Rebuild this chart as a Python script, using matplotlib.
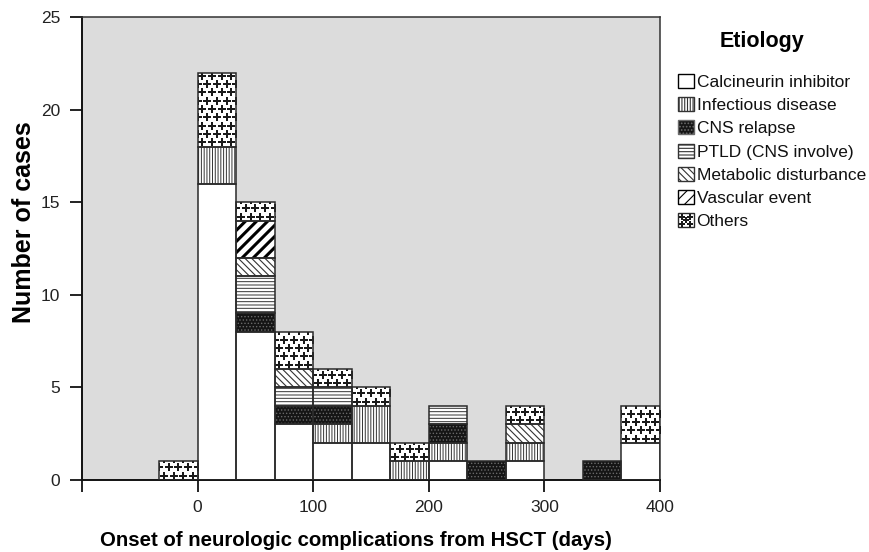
import numpy as np
import matplotlib
matplotlib.use('Agg')
import matplotlib.pyplot as plt
from matplotlib.patches import Rectangle
from matplotlib.lines import Line2D
from matplotlib.legend_handler import HandlerBase

plt.rcParams['font.family'] = ['Liberation Sans', 'DejaVu Sans']
plt.rcParams['hatch.linewidth'] = 0.8

# histogram bins (days), 15 bins of 33.3 days from -100 to 400
bin_edges = np.linspace(-100, 400, 16)

categories = ['Calcineurin inhibitor', 'Infectious disease', 'CNS relapse',
              'PTLD (CNS involve)', 'Metabolic disturbance', 'Vascular event', 'Others']

calcineurin = [0, 0, 0, 16, 8, 3, 2, 2, 0, 1, 0, 1, 0, 0, 2]
infectious  = [0, 0, 0, 2, 0, 0, 1, 2, 1, 1, 0, 1, 0, 0, 0]
cns_relapse = [0, 0, 0, 0, 1, 1, 1, 0, 0, 1, 1, 0, 0, 1, 0]
ptld        = [0, 0, 0, 0, 2, 1, 1, 0, 0, 1, 0, 0, 0, 0, 0]
metabolic   = [0, 0, 0, 0, 1, 1, 0, 0, 0, 0, 0, 1, 0, 0, 0]
vascular    = [0, 0, 0, 0, 2, 0, 0, 0, 0, 0, 0, 0, 0, 0, 0]
others      = [0, 0, 1, 4, 1, 2, 1, 1, 1, 0, 0, 1, 0, 0, 2]

series = [calcineurin, infectious, cns_relapse, ptld, metabolic, vascular, others]

# fill style per category: (facecolor, hatch, hatch colour, hatch linewidth)
styles = [
    ('white', '', 'black', 0.8),
    ('white', '||||||', '#333333', 0.7),
    ('#151515', '.....', '#6a6a6a', 0.6),
    ('white', '-----', '#333333', 0.7),
    ('white', '\\\\\\\\\\', '#333333', 0.8),
    ('white', '///', 'black', 2.2),
    ('white', '', 'black', 0.8),
]

fig = plt.figure(figsize=(8.69, 5.52), dpi=100)
ax = fig.add_axes([82 / 869, 1 - 480 / 552, (660 - 82) / 869, (480 - 17) / 552])
ax.set_facecolor('#dcdcdc')

left = bin_edges[:-1]
width = np.diff(bin_edges)
bottom = np.zeros(len(left))


def add_pluses(ax, patch, x0, y0, w, h, dx_frac=0.25, dy=0.45):
    xs, ys = [], []
    dx = w * dx_frac
    row = 0
    y = y0 + dy * 0.5
    while y < y0 + h + dy:
        off = dx * 0.5 if row % 2 else 0
        x = x0 + off + dx * 0.5 - dx
        while x < x0 + w + dx:
            xs.append(x)
            ys.append(y)
            x += dx
        y += dy
        row += 1
    ln, = ax.plot(xs, ys, ls='none', marker='P', ms=5.5, mew=0, color='#1a1a1a', zorder=3)
    ln.set_clip_path(patch)


for vals, (fc, hatch, hc, hlw), cat in zip(series, styles, categories):
    vals = np.array(vals, dtype=float)
    for i in range(len(vals)):
        if vals[i] == 0:
            continue
        with plt.rc_context({'hatch.linewidth': hlw}):
            r = Rectangle((left[i], bottom[i]), width[i], vals[i], facecolor=fc,
                          hatch=hatch, edgecolor=hc, lw=0, zorder=2)
            try:
                r.set_hatch_linewidth(hlw)
            except AttributeError:
                pass
        ax.add_patch(r)
        if cat == 'Others':
            add_pluses(ax, r, left[i], bottom[i], width[i], vals[i])
        ax.add_patch(Rectangle((left[i], bottom[i]), width[i], vals[i], fill=False,
                               edgecolor='#2a2a2a', lw=1.1, zorder=4))
    bottom += vals

ax.set_xlim(-100, 400)
ax.set_ylim(0, 25)
ax.set_xticks([-100, 0, 100, 200, 300, 400])
ax.set_xticklabels(['', '0', '100', '200', '300', '400'])
ax.set_yticks([0, 5, 10, 15, 20, 25])
ax.tick_params(axis='both', direction='out', length=8.5, width=1.3, labelsize=12.5,
               color='#111111', labelcolor='#222222', pad=7)
ax.tick_params(axis='x', pad=6)
for s in ax.spines.values():
    s.set_linewidth(1.1)
    s.set_color('#333333')
ax.spines['left'].set_linewidth(1.4)
ax.spines['bottom'].set_linewidth(1.4)
ax.spines['left'].set_color('#111111')
ax.spines['bottom'].set_color('#111111')

ax.set_xlabel('Onset of neurologic complications from HSCT (days)', fontsize=14.7,
              fontweight='bold', va='center')
ax.xaxis.set_label_coords(274 / 578, -60 / 463)
ax.set_ylabel('Number of cases', fontsize=18, fontweight='bold', va='center')
ax.yaxis.set_label_coords(-58 / 578, 258 / 463)


# legend
class PlusHandler(HandlerBase):
    def create_artists(self, legend, orig_handle, xdescent, ydescent, width, height,
                       fontsize, trans):
        rect = Rectangle((-xdescent, -ydescent), width, height, facecolor='white',
                         edgecolor='#2a2a2a', lw=1.0, transform=trans)
        xs = [-xdescent + width * f for f in (0.25, 0.75, 0.5, 0.25, 0.75)]
        ys = [-ydescent + height * f for f in (0.75, 0.75, 0.5, 0.25, 0.25)]
        pl = Line2D(xs, ys, ls='none', marker='P', ms=5, mew=0, color='#1a1a1a',
                    transform=trans)
        return [rect, pl]


handles = []
for (fc, hatch, hc, hlw), cat in zip(styles, categories):
    with plt.rc_context({'hatch.linewidth': hlw}):
        p = Rectangle((0, 0), 1, 1, facecolor=fc, hatch=hatch, edgecolor=hc, lw=1.0)
        try:
            p.set_hatch_linewidth(hlw)
        except AttributeError:
            pass
    handles.append(p)

leg = fig.legend(handles, categories, loc='upper left',
                 bbox_to_anchor=(678 / 869, 1 - 74 / 552), frameon=False,
                 fontsize=12.5, handlelength=0.95, handleheight=0.85, handletextpad=0.12,
                 labelspacing=0.42, borderpad=0, borderaxespad=0,
                 handler_map={handles[-1]: PlusHandler()})
for t in leg.get_texts():
    t.set_color('#111111')

fig.text(762 / 869, 1 - 41 / 552, 'Etiology', fontsize=15.5, fontweight='bold',
         ha='center', va='center')

fig.savefig('out.png', dpi=100)
